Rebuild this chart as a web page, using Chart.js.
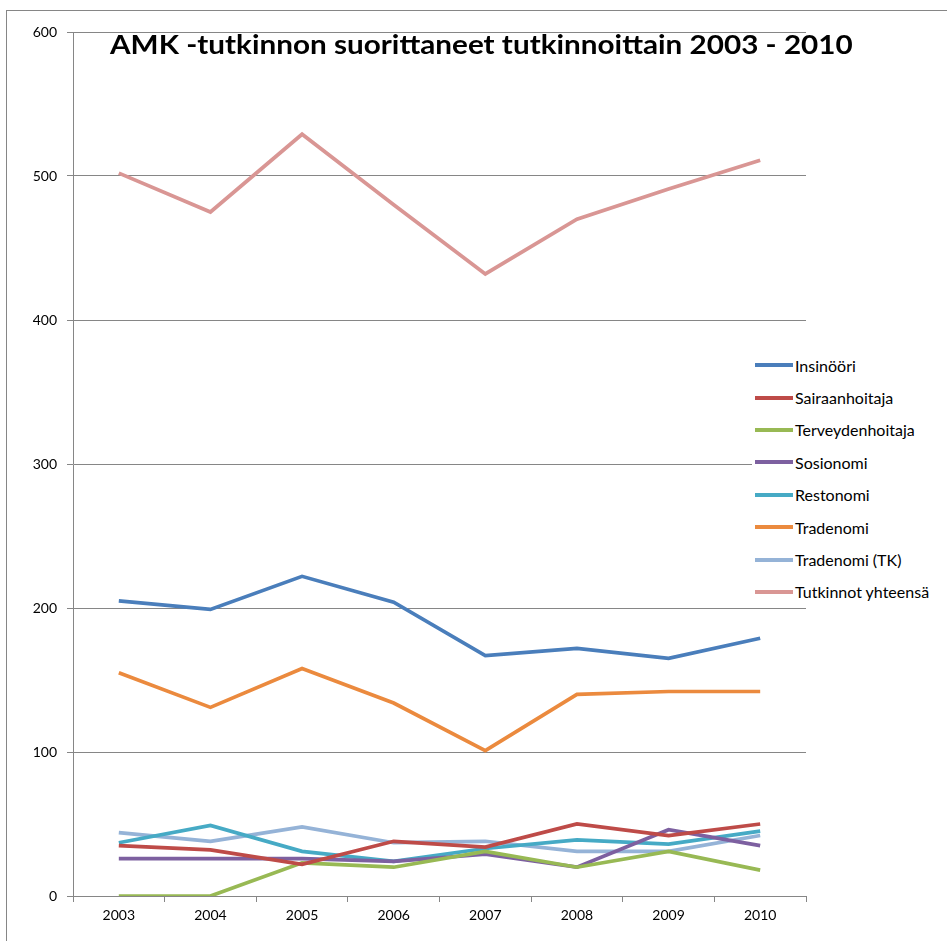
<!DOCTYPE html>
<html>
<head>
<meta charset="utf-8">
<script src="https://cdn.jsdelivr.net/npm/chart.js@4/dist/chart.umd.min.js"></script>
<style>
  body { margin: 0; background: #fff; }
  #wrap { position: relative; width: 947px; height: 941px; }
  #frame { position: absolute; left: 6px; top: 10px; width: 960px; height: 960px; border-left: 1px solid #868686; border-top: 1px solid #868686; }
  #title { position: absolute; left: 110px; top: 27px; white-space: nowrap; font-family: Lato, "Open Sans", sans-serif; font-weight: bold; font-size: 27px; color: #000; transform-origin: left top; }
  #legend { position: absolute; left: 752px; top: 349px; width: 195px; background: #fff; font-family: Lato, "Open Sans", sans-serif; font-size: 16px; }
  #legend div { height: 32.4px; display: flex; align-items: center; }
  #legend span.ln { display: inline-block; width: 38px; height: 4px; margin-left: 3px; margin-right: 2px; }
</style>
</head>
<body>
<div id="wrap">
  <div id="frame"></div>
  <canvas id="mycanvas" width="947" height="941"></canvas>
  <div id="title">AMK -tutkinnon suorittaneet tutkinnoittain 2003 - 2010</div>
  <div id="legend"></div>
</div>
<script>
var years = ["2003", "2004", "2005", "2006", "2007", "2008", "2009", "2010"];
var insinoori = [205, 199, 222, 204, 167, 172, 165, 179];
var sairaanhoitaja = [35, 32, 22, 38, 34, 50, 42, 50];
var terveydenhoitaja = [0, 0, 23, 20, 31, 20, 31, 18];
var sosionomi = [26, 26, 26, 24, 29, 20, 46, 35];
var restonomi = [37, 49, 31, 24, 33, 39, 36, 45];
var tradenomi = [155, 131, 158, 134, 101, 140, 142, 142];
var tradenomiTK = [44, 38, 48, 37, 38, 31, 31, 42];
var yhteensa = [502, 475, 529, 480, 432, 470, 491, 511];

var series = [
  ["Insinööri", insinoori, "#4A7EBB"],
  ["Sairaanhoitaja", sairaanhoitaja, "#BE4B48"],
  ["Terveydenhoitaja", terveydenhoitaja, "#98B954"],
  ["Sosionomi", sosionomi, "#7D60A0"],
  ["Restonomi", restonomi, "#46AAC5"],
  ["Tradenomi", tradenomi, "#EB8A3E"],
  ["Tradenomi (TK)", tradenomiTK, "#95B3D7"],
  ["Tutkinnot yhteensä", yhteensa, "#D99694"]
];

var datasets = [];
var leg = document.getElementById("legend");
for (var i = 0; i < series.length; i++) {
  datasets.push({
    label: series[i][0],
    data: series[i][1],
    borderColor: series[i][2],
    backgroundColor: series[i][2],
    borderWidth: 3.7,
    pointRadius: 0,
    tension: 0,
    fill: false
  });
  var d = document.createElement("div");
  d.innerHTML = '<span class="ln" style="background:' + series[i][2] + '"></span>' + series[i][0];
  leg.appendChild(d);
}

// squeeze the title to the width it has in the picture
var t = document.getElementById("title");
t.style.transform = "scaleX(" + (743 / t.offsetWidth) + ")";

var axisGrey = "#868686";
var ctx = document.getElementById("mycanvas");
var LineGraph = new Chart(ctx, {
  type: 'line',
  data: { labels: years, datasets: datasets },
  options: {
    responsive: false,
    animation: false,
    layout: { padding: { left: 0, top: 32, right: 141, bottom: 0 } },
    plugins: { legend: { display: false }, tooltip: { enabled: false } },
    scales: {
      x: {
        offset: true,
        grid: { drawOnChartArea: false, drawTicks: true, tickLength: 6, color: axisGrey, offset: true },
        border: { color: axisGrey },
        ticks: { color: "#000", padding: 5, font: { family: "Lato, 'Open Sans', sans-serif", size: 14 }, maxRotation: 0 },
        afterFit: function(s) { s.height = 45; }
      },
      y: {
        min: 0, max: 600,
        grid: { color: axisGrey, tickLength: 6 },
        border: { color: axisGrey },
        ticks: { stepSize: 100, color: "#000", padding: 10, font: { family: "Lato, 'Open Sans', sans-serif", size: 14 } },
        afterFit: function(s) { s.width = 73; }
      }
    }
  }
});
</script>
</body>
</html>
